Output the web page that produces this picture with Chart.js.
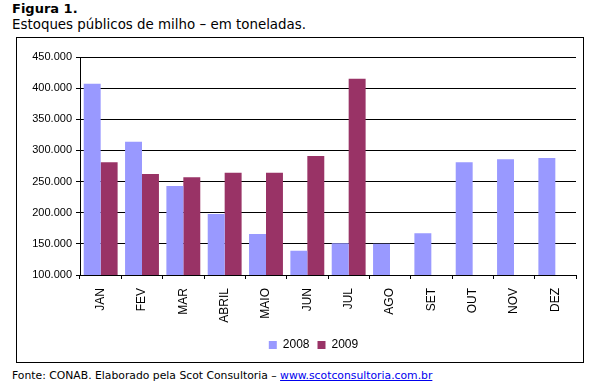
<!DOCTYPE html>
<html>
<head>
<meta charset="utf-8">
<script src="https://cdn.jsdelivr.net/npm/chart.js@4.4.1/dist/chart.umd.min.js"></script>
<style>
    body { margin: 0; background: #fff; width: 589px; height: 385px; position: relative; overflow: hidden; }
    .title { position: absolute; left: 12px; top: 1px; font: bold 13px 'DejaVu Sans', sans-serif; color: #000; }
    .subtitle { position: absolute; left: 12px; top: 17px; font: 13.4px 'DejaVu Sans', sans-serif; color: #000; }
    .box { position: absolute; left: 16px; top: 37px; width: 566px; height: 324px; border: 1px solid #000; }
    .box canvas { position: absolute; left: 0; top: 0; }
    .source { position: absolute; left: 12px; top: 369px; font: 10.8px 'DejaVu Sans', sans-serif; color: #000; }
    .source a { color: #0000ee; text-decoration: underline; }
</style>
</head>
<body>
<div class="title">Figura 1.</div>
<div class="subtitle">Estoques públicos de milho – em toneladas.</div>
<div class="box"><canvas id="chart" width="566" height="324"></canvas></div>
<div class="source">Fonte: CONAB. Elaborado pela Scot Consultoria – <a href="#">www.scotconsultoria.com.br</a></div>
<script>
// Data
const months = ['JAN', 'FEV', 'MAR', 'ABRIL', 'MAIO', 'JUN', 'JUL', 'AGO', 'SET', 'OUT', 'NOV', 'DEZ'];
const stocks2008 = [407000, 314000, 243000, 198000, 166000, 139000, 151000, 150000, 167000, 281000, 286000, 288000];
const stocks2009 = [281000, 262000, 257000, 264000, 264000, 291000, 415000, null, null, null, null, null];
const yTicks = [100000, 150000, 200000, 250000, 300000, 350000, 400000, 450000];

const colors = {
    y2008: '#9999FF',
    y2009: '#993366'
};

function formatThousands(value) {
    return String(value).replace(/\B(?=(\d{3})+(?!\d))/g, '.');
}

// nudges the legend to the right, like the original
const legendShift = {
    id: 'legendShift',
    afterLayout(chart) {
        chart.legend.left += 17;
        chart.legend.right += 17;
    }
};

new Chart(document.getElementById('chart'), {
    type: 'bar',
    data: {
        labels: months,
        datasets: [
            {
                label: '2008',
                data: stocks2008,
                backgroundColor: colors.y2008,
                borderWidth: 0
            },
            {
                label: '2009',
                data: stocks2009,
                backgroundColor: colors.y2009,
                borderWidth: 0
            }
        ]
    },
    options: {
        responsive: false,
        animation: false,
        categoryPercentage: 0.82,
        barPercentage: 1.0,
        layout: {
            padding: { top: 19, right: 7, left: 0, bottom: 1 }
        },
        plugins: {
            legend: {
                position: 'bottom',
                labels: {
                    boxWidth: 8,
                    boxHeight: 8,
                    padding: 8,
                    color: '#000',
                    font: { family: "'Liberation Sans', Arial, sans-serif", size: 12 }
                }
            },
            tooltip: { enabled: false }
        },
        scales: {
            x: {
                grid: {
                    display: true,
                    drawOnChartArea: false,
                    color: '#000',
                    tickLength: 4
                },
                border: { color: '#000' },
                ticks: {
                    color: '#000',
                    minRotation: 90,
                    maxRotation: 90,
                    padding: 9,
                    font: { family: "'Liberation Sans', Arial, sans-serif", size: 12 }
                },
                afterFit(scale) { scale.height = 56; }
            },
            y: {
                min: 100000,
                max: 450000,
                afterBuildTicks(scale) {
                    scale.ticks = yTicks.map(v => ({ value: v }));
                },
                grid: {
                    color: '#000',
                    tickLength: 4
                },
                border: { color: '#000' },
                ticks: {
                    color: '#000',
                    padding: 4,
                    font: { family: "'Liberation Sans', Arial, sans-serif", size: 11 },
                    callback: function(value) {
                        return formatThousands(value);
                    }
                },
                afterFit(scale) { scale.width = 63; }
            }
        }
    },
    plugins: [legendShift]
});
</script>
</body>
</html>
